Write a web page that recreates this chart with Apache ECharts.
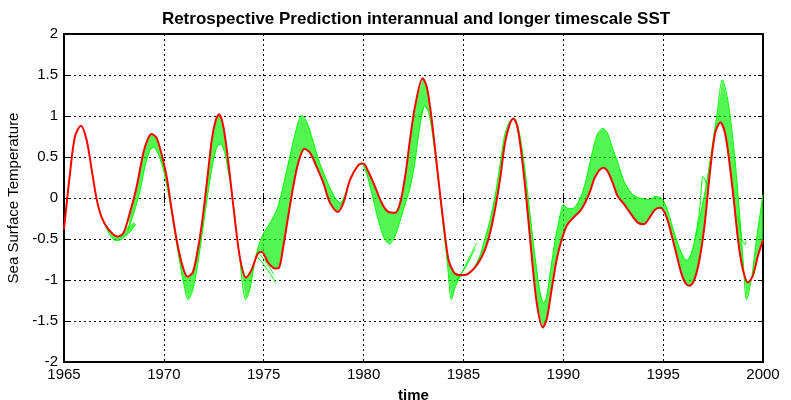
<!DOCTYPE html>
<html>
<head>
<meta charset="utf-8">
<script src="https://cdn.jsdelivr.net/npm/echarts@6/dist/echarts.min.js"></script>
<style>
html,body{margin:0;padding:0;background:#fff;}
#chart{width:791px;height:400px;}
</style>
</head>
<body>
<div id="chart"></div>
<script>
// ---- Data ----
var xTicks = [1965, 1970, 1975, 1980, 1985, 1990, 1995, 2000];
var yTicks = [-2, -1.5, -1, -0.5, 0, 0.5, 1, 1.5, 2];

// Observed SST (red)
var redYears = [1965.0,1965.3,1965.55,1965.85,1966.13,1966.39,1966.64,1966.89,1967.22,1967.67,1967.97,1968.3,1968.64,1968.97,1969.2,1969.39,1969.64,1969.89,1970.14,1970.39,1970.64,1970.89,1971.18,1971.44,1971.64,1971.89,1972.15,1972.4,1972.6,1972.76,1972.98,1973.23,1973.48,1973.81,1974.11,1974.4,1974.7,1974.9,1975.23,1975.57,1975.77,1975.98,1976.23,1976.48,1976.73,1977.04,1977.32,1977.65,1977.99,1978.32,1978.71,1978.99,1979.32,1979.74,1979.99,1980.24,1980.57,1980.91,1981.24,1981.58,1981.83,1982.08,1982.33,1982.58,1982.96,1983.16,1983.33,1983.53,1983.75,1984.0,1984.25,1984.5,1984.75,1985.08,1985.41,1985.75,1986.08,1986.33,1986.58,1986.83,1987.08,1987.33,1987.5,1987.7,1987.92,1988.17,1988.42,1988.67,1988.97,1989.17,1989.42,1989.67,1989.92,1990.17,1990.5,1990.84,1991.09,1991.34,1991.56,1991.81,1992.01,1992.23,1992.48,1992.73,1993.06,1993.4,1993.73,1994.03,1994.32,1994.6,1994.87,1995.15,1995.4,1995.65,1995.9,1996.12,1996.32,1996.57,1996.82,1997.07,1997.32,1997.6,1997.87,1998.1,1998.32,1998.57,1998.77,1998.99,1999.24,1999.49,1999.74,2000.0];
var redValues = [-0.38,0.30,0.75,0.88,0.71,0.34,-0.02,-0.24,-0.38,-0.47,-0.43,-0.18,0.14,0.55,0.72,0.78,0.73,0.53,0.26,-0.14,-0.51,-0.79,-0.96,-0.91,-0.71,-0.34,0.18,0.71,0.95,1.02,0.87,0.43,-0.10,-0.73,-0.97,-0.87,-0.68,-0.66,-0.79,-0.86,-0.85,-0.59,-0.22,0.14,0.43,0.60,0.55,0.38,0.18,-0.06,-0.17,-0.06,0.22,0.40,0.42,0.32,0.14,-0.06,-0.17,-0.18,-0.06,0.26,0.72,1.12,1.46,1.36,1.11,0.71,0.22,-0.30,-0.75,-0.90,-0.94,-0.94,-0.89,-0.79,-0.63,-0.43,-0.14,0.22,0.67,0.91,0.97,0.87,0.51,-0.06,-0.71,-1.28,-1.58,-1.48,-1.11,-0.75,-0.51,-0.34,-0.24,-0.16,-0.06,0.08,0.24,0.34,0.37,0.32,0.18,0.02,-0.08,-0.20,-0.30,-0.32,-0.24,-0.14,-0.12,-0.22,-0.43,-0.67,-0.91,-1.04,-1.07,-0.99,-0.75,-0.34,0.26,0.79,0.92,0.79,0.43,-0.10,-0.55,-0.87,-1.03,-0.95,-0.71,-0.51];

// Outer edge of the main bundle of green prediction curves
var farYears = [1968.2,1968.5,1968.8,1969.05,1969.3,1969.5,1969.75,1970.0,1970.25,1970.5,1970.75,1971.0,1971.22,1971.45,1971.7,1971.95,1972.2,1972.45,1972.65,1972.85,1973.05,1973.3,1973.55,1973.8,1974.1,1974.3,1974.5,1974.7,1974.95,1975.3,1975.7,1976.1,1976.45,1976.7,1976.9,1977.15,1977.4,1977.8,1978.2,1978.6,1978.85,1979.1,1979.4,1979.7,1979.9,1980.15,1980.45,1980.75,1981.05,1981.3,1981.55,1981.8,1982.05,1982.3,1982.55,1982.8,1983.05,1983.25,1983.45,1983.7,1983.95,1984.2,1984.4,1984.6,1984.85,1985.2,1985.5,1985.8,1986.05,1986.3,1986.55,1986.8,1987.05,1987.3,1987.55,1987.8,1988.05,1988.3,1988.55,1988.8,1989.0,1989.15,1989.35,1989.6,1989.85,1990.0,1990.25,1990.55,1990.85,1991.1,1991.4,1991.7,1991.98,1992.2,1992.45,1992.73,1993.05,1993.4,1993.7,1994.0,1994.3,1994.6,1994.9,1995.15,1995.5,1995.8,1996.05,1996.2,1996.4,1996.6,1996.85,1997.1,1997.35,1997.68,1997.97,1998.27,1998.6,1998.85,1999.0,1999.18,1999.44,1999.69,2000.0];
var farValues = [-0.40,-0.18,0.08,0.38,0.58,0.62,0.52,0.32,0.02,-0.35,-0.72,-1.05,-1.24,-1.12,-0.80,-0.38,0.05,0.42,0.62,0.66,0.55,0.22,-0.22,-0.75,-1.24,-1.12,-0.85,-0.62,-0.45,-0.31,-0.12,0.28,0.66,0.90,1.01,0.93,0.75,0.43,0.19,-0.01,-0.06,0.06,0.27,0.40,0.43,0.30,0.02,-0.28,-0.50,-0.56,-0.48,-0.30,-0.10,0.10,0.40,0.85,1.12,1.05,0.78,0.30,-0.25,-0.80,-1.24,-1.08,-0.96,-0.92,-0.86,-0.72,-0.52,-0.30,-0.02,0.35,0.75,0.93,0.97,0.80,0.40,-0.12,-0.65,-1.10,-1.28,-1.22,-0.90,-0.50,-0.20,-0.08,-0.13,-0.12,0.0,0.18,0.50,0.78,0.85,0.80,0.62,0.43,0.20,0.06,0.01,-0.01,-0.02,0.02,0.0,-0.10,-0.38,-0.60,-0.73,-0.76,-0.68,-0.50,-0.22,0.08,0.46,0.99,1.44,1.15,0.46,-0.27,-0.75,-1.24,-0.96,-0.47,0.04];

// Early short bundle (1967-1968): lower and upper edges
var fanLowYears = [1966.89,1967.1,1967.35,1967.6,1967.85,1968.1,1968.35,1968.6];
var fanLowValues = [-0.24,-0.36,-0.47,-0.52,-0.51,-0.46,-0.40,-0.32];
var fanHighYears = [1966.89,1967.3,1967.67,1967.97,1968.2,1968.5];
var fanHighValues = [-0.24,-0.40,-0.47,-0.43,-0.34,-0.30];

// Short branch curves
var branch75aYears = [1974.6,1974.9,1975.2,1975.45,1975.6];
var branch75aValues = [-0.70,-0.78,-0.88,-0.97,-1.04];
var branch75bYears = [1974.75,1975.0,1975.3,1975.5];
var branch75bValues = [-0.68,-0.74,-0.85,-0.93];
var branch85aYears = [1984.55,1984.9,1985.3,1985.66];
var branch85aValues = [-1.02,-0.92,-0.72,-0.55];
var branch85bYears = [1984.7,1985.1,1985.45,1985.6];
var branch85bValues = [-0.97,-0.85,-0.68,-0.62];
var branch97Years = [1996.55,1996.8,1997.0,1997.1,1997.2];
var branch97Values = [-0.55,-0.20,0.26,0.22,0.12];
var branch99Years = [1998.75,1998.95,1999.1,1999.15];
var branch99Values = [-0.22,-0.50,-0.57,-0.52];

function pairs(xs, ys){ return xs.map(function(x,i){ return [x, ys[i]]; }); }

var redData = pairs(redYears, redValues);
var farData = pairs(farYears, farValues);

// polygon: far edge forward, observed curve backward over the same span
function bandPolygon(edgeA, edgeB){
  return edgeA.concat(edgeB.slice().reverse());
}
var redInRange = redData.filter(function(p){ return p[0] >= farYears[0] && p[0] <= farYears[farYears.length-1]; });
var mainBand = bandPolygon(farData, redInRange);
var fanBand = bandPolygon(pairs(fanLowYears, fanLowValues), pairs(fanHighYears, fanHighValues));

var GREEN = '#00ff00';
var BAND = 'rgba(0,240,0,0.68)';
var FONT = 'Liberation Sans, Arial, Helvetica, sans-serif';

function bandSeries(poly){
  return {
    type: 'custom',
    coordinateSystem: 'cartesian2d',
    silent: true,
    clip: true,
    z: 1,
    data: [[poly[0][0], poly[0][1]]],
    renderItem: function(params, api){
      var pts = poly.map(function(p){ return api.coord(p); });
      return { type: 'polygon', shape: { points: pts }, style: { fill: BAND, stroke: null } };
    }
  };
}
function greenLine(data, w){
  return { type:'line', data:data, symbol:'none', smooth:0.3, silent:true, z:2,
           lineStyle:{ color: GREEN, width: w || 1 } };
}

var chart = echarts.init(document.getElementById('chart'), null, {renderer:'canvas'});
var gridLine = { show:true, lineStyle:{ color:'#000', type:[2,3], width:1 } };
var tickStyle = { show:true, inside:true, length:5, lineStyle:{ color:'#000', width:1 } };

chart.setOption({
  animation:false,
  backgroundColor:'#ffffff',
  title:{
    text:'Retrospective Prediction interannual and longer timescale SST',
    left:411, top:6, textAlign:'center',
    textStyle:{ fontSize:17, fontWeight:'bold', color:'#000', fontFamily:FONT }
  },
  grid:{ left:64, right:28, top:34, bottom:38, outerBoundsMode:'none', containLabel:false,
         show:true, borderColor:'#000', borderWidth:2, backgroundColor:'#fff' },
  xAxis:[{
    type:'value', min:1965, max:2000, interval:5,
    name:'time', nameLocation:'middle', nameGap:26,
    nameTextStyle:{ color:'#000', fontSize:15, fontWeight:'bold', fontFamily:FONT },
    axisLine:{ show:false },
    axisTick: tickStyle,
    axisLabel:{ show:true, margin:5, formatter:function(v){ return xTicks.indexOf(v) >= 0 ? String(v) : ''; }, color:'#000', fontSize:15, fontFamily:FONT },
    splitLine: gridLine
  },{
    type:'value', min:1965, max:2000, interval:5, position:'top',
    axisLine:{ show:false }, axisLabel:{ show:false }, splitLine:{ show:false },
    axisTick: tickStyle
  }],
  yAxis:[{
    type:'value', min:-2, max:2, interval:0.5,
    name:'Sea Surface Temperature', nameLocation:'middle', nameGap:38,
    nameTextStyle:{ color:'#000', fontSize:15, fontFamily:FONT },
    axisLine:{ show:false },
    axisTick: tickStyle,
    axisLabel:{ show:true, margin:6, formatter:function(v){ return yTicks.indexOf(v) >= 0 ? String(v) : ''; }, color:'#000', fontSize:15, fontFamily:FONT },
    splitLine: gridLine
  },{
    type:'value', min:-2, max:2, interval:0.5, position:'right',
    axisLine:{ show:false }, axisLabel:{ show:false }, splitLine:{ show:false },
    axisTick: tickStyle
  }],
  series:[
    bandSeries(mainBand),
    bandSeries(fanBand),
    greenLine(farData),
    greenLine(pairs(fanLowYears, fanLowValues)),
    greenLine(pairs(branch75aYears, branch75aValues)),
    greenLine(pairs(branch75bYears, branch75bValues)),
    greenLine(pairs(branch85aYears, branch85aValues)),
    greenLine(pairs(branch85bYears, branch85bValues)),
    greenLine(pairs(branch97Years, branch97Values)),
    greenLine(pairs(branch99Years, branch99Values)),
    { type:'line', data:redData, symbol:'none', smooth:0.3, silent:true, z:5,
      lineStyle:{ color:'#ff0000', width:2 } }
  ]
});
</script>
</body>
</html>
